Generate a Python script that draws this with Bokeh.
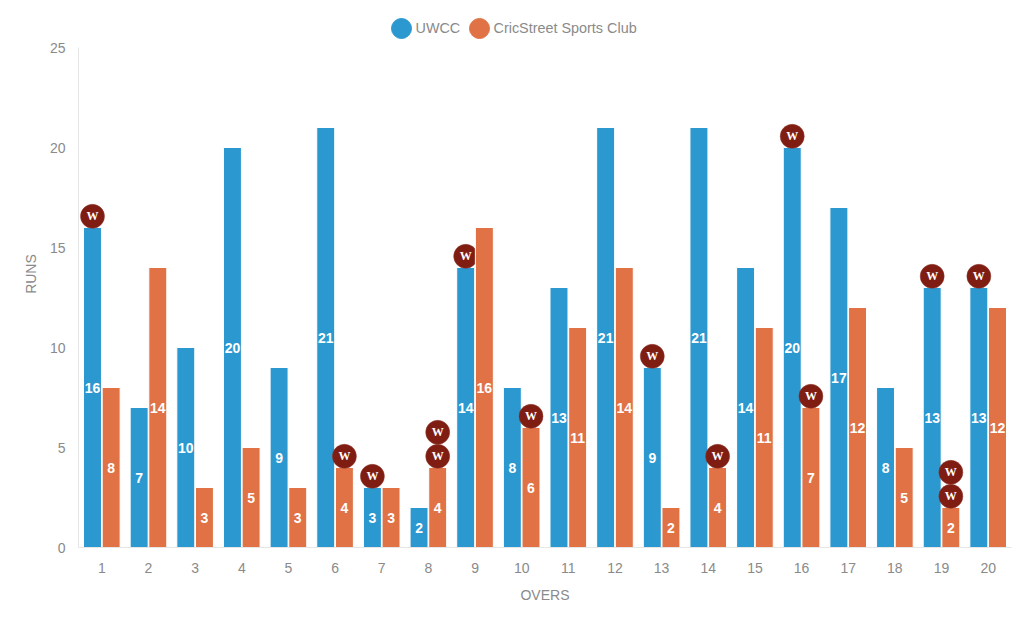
from bokeh.plotting import figure
from bokeh.models import ColumnDataSource, Range1d, FixedTicker
from bokeh.core.properties import value
from bokeh.embed import file_html
from bokeh.resources import INLINE

overs = list(range(1, 21))
uwcc = [16, 7, 10, 20, 9, 21, 3, 2, 14, 8, 13, 21, 9, 21, 14, 20, 17, 8, 13, 13]
cric = [8, 14, 3, 5, 3, 4, 3, 4, 16, 6, 11, 14, 2, 4, 11, 7, 12, 5, 2, 12]
uwcc_wickets = [1, 7, 9, 13, 16, 19, 20]
cric_wickets = [6, 8, 8, 10, 14, 16, 19, 19]
series_names = ["UWCC", "CricStreet Sports Club"]
BLUE, ORANGE, WICKET = "#2b98d0", "#e07246", "#7f1d12"
GREY = "#8a8a8a"

p = figure(width=1022, height=611, output_backend="svg", toolbar_location=None,
           x_range=Range1d(0.5, 20.5), y_range=Range1d(0, 27.35),
           min_border_left=78, min_border_right=11, min_border_top=0, min_border_bottom=64,
           x_axis_label="OVERS", y_axis_label="RUNS")
p.outline_line_color = None
p.grid.visible = False
p.background_fill_color = "white"

for ax in (p.xaxis[0], p.yaxis[0]):
    ax.axis_line_color = "#e6e6e6"
    ax.major_tick_line_color = None
    ax.minor_tick_line_color = None
    ax.major_label_text_color = GREY
    ax.major_label_text_font = "Liberation Sans"
    ax.major_label_text_font_size = "14px"
    ax.axis_label_text_color = GREY
    ax.axis_label_text_font = "Liberation Sans"
    ax.axis_label_text_font_size = "14px"
    ax.axis_label_text_font_style = "normal"
p.xaxis[0].ticker = FixedTicker(ticks=overs)
p.yaxis[0].ticker = FixedTicker(ticks=[0, 5, 10, 15, 20, 25])
p.yaxis[0].bounds = (0, 25)
p.xaxis[0].major_label_standoff = 9
p.yaxis[0].major_label_standoff = 7
p.xaxis[0].axis_label_standoff = 11
p.yaxis[0].axis_label_standoff = 8

OFFSET = 0.2
WIDTH = 0.385
RUN_PER_MARKER = 1.2  # a 24px wicket badge spans 1.2 runs on this scale

for vals, wkts, col, off in ((uwcc, uwcc_wickets, BLUE, -OFFSET),
                             (cric, cric_wickets, ORANGE, OFFSET)):
    xs = [o + off for o in overs]
    src = ColumnDataSource(dict(x=xs, top=vals, mid=[v / 2 for v in vals], label=[str(v) for v in vals]))
    p.vbar(x="x", top="top", bottom=0, width=WIDTH, source=src, fill_color=col, line_color="white", line_width=1)
    p.text(x="x", y="mid", text="label", source=src, text_color="white", text_align="center",
           text_baseline="middle", text_font=value("Liberation Sans"), text_font_style="bold",
           text_font_size="14px")

    wx, wy, seen = [], [], {}
    for w in wkts:
        n = seen.get(w, 0)
        seen[w] = n + 1
        wx.append(w + off)
        wy.append(vals[w - 1] + RUN_PER_MARKER * n + 0.56)
    wsrc = ColumnDataSource(dict(x=wx, y=wy, t=["W"] * len(wx)))
    p.scatter(x="x", y="y", source=wsrc, size=24, fill_color=WICKET, line_color="#8f3a30", line_width=0.5)
    p.text(x="x", y="y", text="t", source=wsrc, text_color="white", text_align="center",
           text_baseline="middle", text_font=value("Liberation Serif"), text_font_style="bold",
           text_font_size="12px")

# Legend row above the plotted values, inside the frame's headroom above y=25
LEG_Y = 25.95
LEG_TEXT_Y = 26.0
for name, col, key_x, text_x in ((series_names[0], BLUE, 7.424, 7.724),
                                 (series_names[1], ORANGE, 9.096, 9.396)):
    p.scatter(x=[key_x], y=[LEG_Y], size=20, fill_color=col, line_color=col)
    p.text(x=[text_x], y=[LEG_TEXT_Y], text=[name], text_color=GREY, text_align="left", text_baseline="middle",
           text_font=value("Liberation Sans"), text_font_size="14.4px")

open("out.html", "w").write(file_html(p, INLINE))
